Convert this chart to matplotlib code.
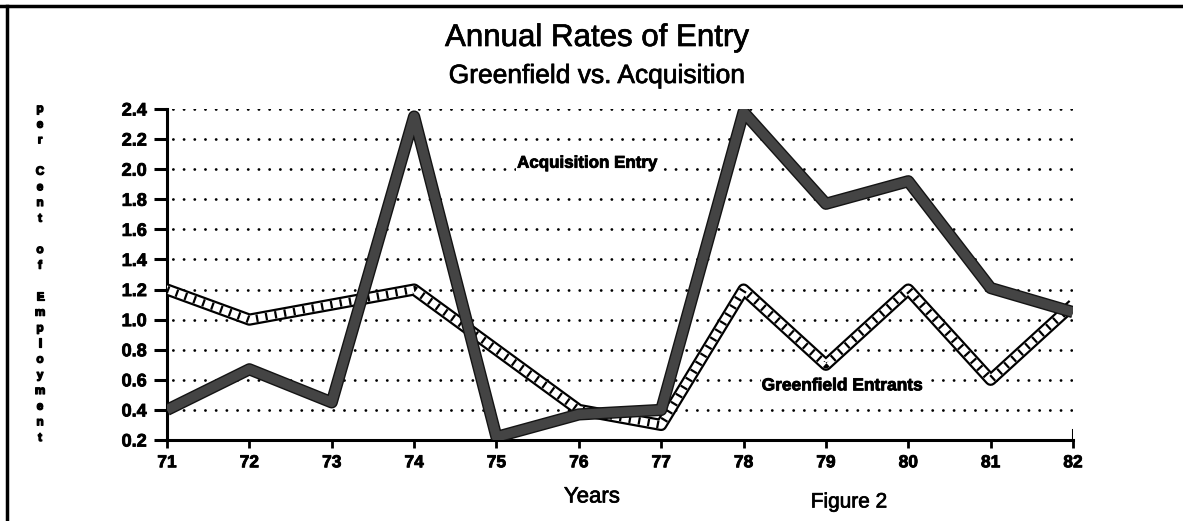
import matplotlib
matplotlib.use("Agg")
import matplotlib.pyplot as plt
import matplotlib.patheffects as pe
from matplotlib.lines import Line2D

plt.rcParams['font.family'] = ['Liberation Sans', 'DejaVu Sans']
plt.rcParams['lines.scale_dashes'] = False

# ---- data ----
years = [71, 72, 73, 74, 75, 76, 77, 78, 79, 80, 81, 82]
acquisition = [0.40, 0.67, 0.45, 2.35, 0.22, 0.37, 0.40, 2.38, 1.77, 1.92, 1.21, 1.05]
greenfield = [1.20, 1.00, 1.10, 1.20, 0.80, 0.40, 0.30, 1.20, 0.70, 1.20, 0.60, 1.10]
y_ticks = [0.2, 0.4, 0.6, 0.8, 1.0, 1.2, 1.4, 1.6, 1.8, 2.0, 2.2, 2.4]
y_tick_labels = ['0.2', '0.4', '0.6', '0.8', '1.0', '1.2', '1.4', '1.6', '1.8', '2.0', '2.2', '2.4']
x_tick_labels = ['71', '72', '73', '74', '75', '76', '77', '78', '79', '80', '81', '82']
ylabel_text = "per Cent of Employment"

W, H = 1183, 521
fig = plt.figure(figsize=(W / 100, H / 100), dpi=100)
fig.patch.set_facecolor('white')

heavy = [pe.withStroke(linewidth=0.6, foreground='black')]

ax = fig.add_axes([167 / W, (H - 440) / H, (1073 - 167) / W, (440 - 109) / H])
ax.set_xlim(years[0], years[-1])
ax.set_ylim(y_ticks[0], y_ticks[-1])

# dotted grid
for v in y_ticks[1:]:
    ax.axhline(v, color='black', lw=2.0, linestyle=(3.5, (0.1, 7.6)),
               dash_capstyle='round', zorder=1)

# greenfield: ladder-like hollow band
ax.plot(years, greenfield, color='black', lw=8.8, solid_joinstyle='round',
        solid_capstyle='butt', zorder=2)
ax.plot(years, greenfield, color='white', lw=5.6, solid_joinstyle='round',
        zorder=3)
ax.plot(years, greenfield, color='black', lw=5.4, linestyle=(0, (1.6, 5.2)),
        dash_capstyle='butt', zorder=4)

# acquisition: thick dark band
ax.plot(years, acquisition, color='#444444', lw=6.8, solid_joinstyle='round',
        solid_capstyle='butt', zorder=5,
        path_effects=[pe.Stroke(linewidth=8.8, foreground='#141414'), pe.Normal()])

# axes styling
for s in ['top', 'right']:
    ax.spines[s].set_visible(False)
for s in ['left', 'bottom']:
    ax.spines[s].set_linewidth(2.2)
ax.set_xticks(years)
ax.set_xticklabels(x_tick_labels, fontsize=12.5, fontweight='bold')
ax.set_yticks(y_ticks)
ax.set_yticklabels(y_tick_labels, fontsize=13, fontweight='bold')
for lab in ax.get_xticklabels() + ax.get_yticklabels():
    lab.set_path_effects(heavy)
ax.tick_params(axis='y', direction='out', length=9.5, width=2.2, pad=5)
ax.tick_params(axis='x', direction='out', length=6, width=2.0, pad=5)
ax.axvline(years[-1], ymin=0, ymax=0.03, color='black', lw=2.2, zorder=6)

# annotations
ax.text(76.1, 2.04, 'Acquisition Entry', fontsize=12.2, fontweight='bold',
        ha='center', va='center', zorder=7, path_effects=heavy,
        bbox=dict(facecolor='white', edgecolor='none', pad=0.5))
ax.text(79.2, 0.56, 'Greenfield Entrants', fontsize=12.5, fontweight='bold',
        ha='center', va='center', zorder=7, path_effects=heavy,
        bbox=dict(facecolor='white', edgecolor='none', pad=0.5))

# titles
fig.text(597 / W, 1 - 38 / H, 'Annual Rates of Entry', fontsize=22.5,
         ha='center', va='center',
         path_effects=[pe.withStroke(linewidth=0.5, foreground='black')])
fig.text(597 / W, 1 - 76 / H, 'Greenfield vs. Acquisition', fontsize=19,
         ha='center', va='center',
         path_effects=[pe.withStroke(linewidth=0.5, foreground='black')])
fig.text(592 / W, 1 - 497 / H, 'Years', fontsize=16, ha='center', va='center',
         path_effects=[pe.withStroke(linewidth=0.5, foreground='black')])
fig.text(849 / W, 1 - 502 / H, 'Figure 2', fontsize=15, ha='center', va='center',
         path_effects=[pe.withStroke(linewidth=0.5, foreground='black')])

# vertical stacked y label
lines = []
for word in ylabel_text.split(' '):
    lines.extend(list(word))
    lines.append('')
lines = lines[:-1]
y0, step = 109, (438 - 109) / (len(lines) - 1)
for i, ch in enumerate(lines):
    if ch:
        fig.text(40 / W, 1 - (y0 + i * step) / H, ch, fontsize=8.5, fontweight='bold',
                 ha='center', va='center',
                 path_effects=[pe.withStroke(linewidth=0.9, foreground='black')])

# page border
fig.add_artist(Line2D([0, 1], [1 - 6 / H, 1 - 6 / H], color='black', lw=2.5,
                      transform=fig.transFigure))
fig.add_artist(Line2D([7 / W, 7 / W], [1 - 6 / H, 0], color='black', lw=2.5,
                      transform=fig.transFigure))

fig.savefig('out.png', dpi=100)
